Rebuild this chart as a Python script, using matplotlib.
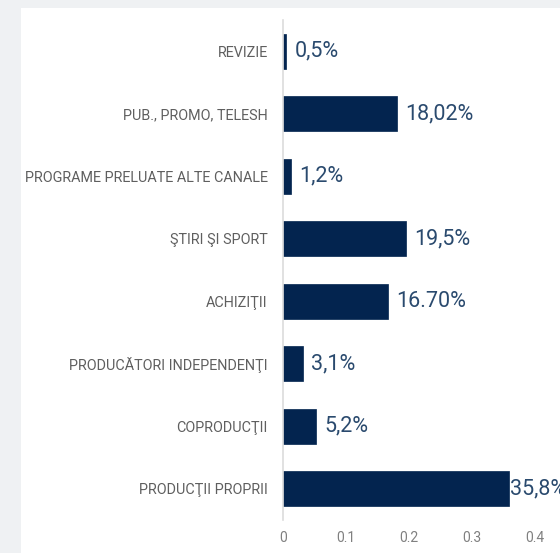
"""Horizontal bar chart: cost structure shares by category."""
import matplotlib
matplotlib.use("Agg")
import matplotlib.pyplot as plt
from matplotlib.patches import Rectangle

categories = [
    "REVIZIE",
    "PUB., PROMO, TELESH",
    "PROGRAME PRELUATE ALTE CANALE",
    "ŞTIRI ŞI SPORT",
    "ACHIZIŢII",
    "PRODUCĂTORI INDEPENDENŢI",
    "COPRODUCŢII",
    "PRODUCŢII PROPRII",
]
values = [0.005, 0.1802, 0.012, 0.195, 0.167, 0.031, 0.052, 0.358]
value_labels = ["0,5%", "18,02%", "1,2%", "19,5%", "16.70%", "3,1%", "5,2%", "35,8%"]
xticks = [0, 0.1, 0.2, 0.3, 0.4]

W, H = 560, 553
fig = plt.figure(figsize=(W / 100, H / 100), dpi=100)
fig.patch.set_facecolor("#eff1f3")

# white card behind the chart
fig.patches.append(Rectangle((21 / W, 0), 1, (H - 8) / H, transform=fig.transFigure,
                             facecolor="white", edgecolor="none", zorder=-10))

ax = fig.add_axes([283 / W, 33 / H, (W - 283) / W, 500 / H])
ax.set_facecolor("none")
ax.set_zorder(1)

y = list(range(len(categories)))
ax.barh(y, values, height=0.56, color="#03244f", edgecolor="#03244f", linewidth=0.5)

for yi, v, lab in zip(y, values, value_labels):
    # the longest bar's label is squeezed against the bar, as in the original
    pad = 1 if v > 0.3 else 6
    ax.annotate(lab, (v, yi), xytext=(pad, 0), textcoords="offset points",
                va="center", ha="left", fontsize=15.5, color="#2a4a6e",
                family=["Roboto", "DejaVu Sans"], clip_on=False)

ax.set_ylim(len(categories) - 0.5, -0.5)
ax.set_xlim(0, (W - 283) / 630)
ax.set_yticks(y)
ax.set_yticklabels(categories, fontsize=10.4, color="#5f5f5f",
                   family=["Roboto", "DejaVu Sans"])
ax.set_xticks(xticks)
ax.set_xticklabels([f"{t:g}" for t in xticks], fontsize=10, color="#808080",
                   family=["Roboto", "DejaVu Sans"])
ax.tick_params(axis="both", length=0)
ax.tick_params(axis="y", pad=11)
ax.tick_params(axis="x", pad=8)

for side in ["top", "right", "bottom"]:
    ax.spines[side].set_visible(False)
ax.spines["left"].set_color("#dcdcdc")
ax.spines["left"].set_linewidth(1.2)

fig.savefig("out.png", dpi=100, facecolor=fig.get_facecolor())
